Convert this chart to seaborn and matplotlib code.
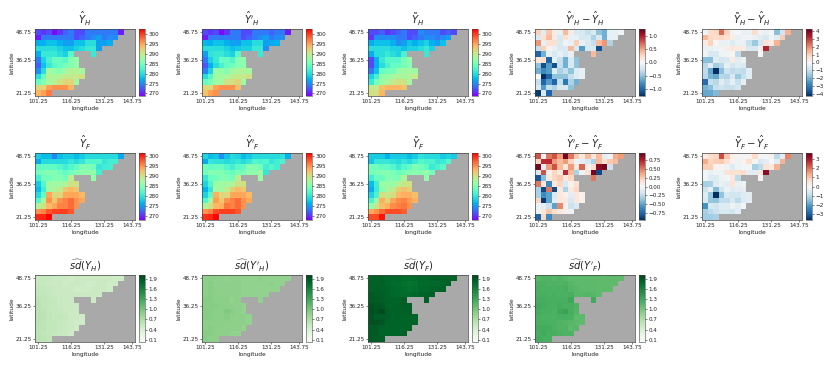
import numpy as np
import pandas as pd
import seaborn as sns
import matplotlib
matplotlib.use("Agg")
import matplotlib.pyplot as plt

n = float("nan")
LON = [101.25 + 2.5 * i for i in range(18)]
LAT = [48.75 - 2.5 * i for i in range(12)]
LON_TICKS = [101.25, 116.25, 131.25, 143.75]
LAT_TICKS = [48.75, 36.25, 21.25]

Y_H_hat = [
 [272,271,272,269,271,273,274,272,272,274,274,274,274,274,274,270],
 [270,274,274,274,274,274,274,272,273,274,275,276,274,275,275],
 [277,277,278,278,277,276,276,278,278,280,280,276,276,277],
 [280,280,280,280,279,278,278,279,280,281,281,276],
 [277,281,281,281,280,279,283,n,n,n,281],
 [274,279,282,284,284,283,286,287],
 [273,278,281,283,284,285,286,287],
 [275,280,288,287,286,288,289,289,288],
 [280,284,289,288,289,290,290,290,291],
 [284,286,288,289,291,292,292,288],
 [292,292,295,296,296,296,294],
 [294,295,297],
]
Y_H_prime = [
 [272,271,272,269,271,274,274,272,272,274,274,274,273,274,274,270],
 [270,274,274,274,274,274,274,272,273,274,275,276,274,275,275],
 [277.5,277,278,278,277,276,276,278,278,280,280,276,276.5,277],
 [280,280,280,280,279,278,278.5,279,279,281,281,275],
 [276,280.5,281,281,280,279,283,n,n,n,281],
 [274,279,281,284,284,282.5,286,286.5],
 [272.5,277,280,282,284,284.5,286,286.5],
 [274.5,279,287,287,286,288,288.5,289,288],
 [280,283,288,287.5,288.5,289.5,290,290,291],
 [284,285,287.5,288,291,291,292,287.5],
 [292,291.5,295,296,296,296,293.5],
 [293,295,296],
]
Y_H_tilde = [
 [272,272,273,271,272,273,274,272,272,275,274,274,274,272,273,272],
 [271,275,275,275,275,274,274,272,273,274,275,275,274,275,276],
 [277,278,278,278,277,275,276,278,277,278,279,277,276,278],
 [280,280,280,280,279,279,278,279,279,280,281,279],
 [277,280,280,281,280,279,282,n,n,n,281],
 [272,277,281,283,283,283,285,287],
 [272,277,280,282,284,284,285,286],
 [274,278,284,285,285,287,288,288,287.5],
 [279,282,287,287,288,289,288,289,290],
 [281,285,287,288.5,290,291,291,288],
 [290,290,293,294,294,294,293],
 [291,291,294],
]
Y_F_hat = [
 [278,277,277,274,277,278,278,277,278,279,279,279,279,279,279,276],
 [276,279,279,279,279,279,280,279,280,282,282,282,280,281,281],
 [283,283,283,283,282,281,282,283,285,285,284,280,281,281],
 [284,285,285,285,284,283,284,285,286,286,286,281],
 [281,284,284,285,285,284,289,n,n,n,286],
 [278,282,287,287,287,288,290,290],
 [277,281,287,288,289,292,293,292],
 [279,283,294,291,291,294,294,294,293],
 [282,288,295,292,295,296,297,295,294],
 [288,290,293,294,296,296,297,295],
 [295,296,298,299,299,299,298],
 [300,300,302],
]
Y_F_prime = [
 [278.5,277,277.5,274.5,277.5,279,278.5,277,278,279,279,279,279,279,279.5,276.5],
 [276,280,279.5,279.5,279,279.5,280,279,280,282,281.5,282,280,281,281.5],
 [284,283,283.5,283.5,282,281,282.5,283,285.5,285,284,281,282,281],
 [284,285.5,285,285,284,283.5,284.5,284.5,286,286,287,280],
 [280,283.5,284,285,285,284,289,n,n,n,286.5],
 [278.5,282,286.5,287,287,288,290,290],
 [276.5,280,287.5,287,289,291.5,293,292],
 [278.5,282.5,293.5,291,291,294,294,294,293],
 [282,287,294.5,292,295,296,297,295,294],
 [288,290,293,293.5,296.5,296,297,295],
 [295,296,298.5,299,299,299,298],
 [299.5,300,301.5],
]
Y_F_tilde = [
 [278,278,278,276.5,278,278,278,277,278,279.5,279,279,279,278,278.5,278],
 [277.5,280,280,280,279.5,279,280,279,280.5,282,281.5,281.5,280,280.5,282],
 [284,284,283,283,282,280.5,282,283,285,284,283,280.5,281.5,282.5],
 [284,284.5,285,285,284.5,283.5,284.5,285.5,285.5,285.5,286.5,284],
 [281,283.5,283.5,285,285,284.5,288,n,n,n,286],
 [277,281,286.5,286.5,286.5,288.5,289.5,290],
 [276,280.5,285.5,287.5,289,291.5,292.5,291.5],
 [278.5,281.5,290.5,289.5,290.5,293,293.5,293.5,292.5],
 [281.5,286.5,293.5,291,294,295.5,296,294.5,293.5],
 [286,289.5,292.5,293.5,295.5,296,296.5,295],
 [294,295,297,298.5,298.5,298.5,297.5],
 [298.5,298.5,301],
]
D_H_prime = [
 [.3,-.15,.35,.1,-.1,.4,.1,-.2,-.2,-.3,-.2,-.5,-.6,-.1,-.1,-.05],
 [-.2,.2,.4,.1,-.2,.2,-.1,-.1,-.2,-.2,-.4,-.2,-.6,-.1,-.1],
 [.55,-.1,.2,.2,-.2,-.05,-.1,.3,-.1,-.2,-.3,.4,.55,-.4],
 [-.3,.3,.05,-.1,-.2,-.2,.4,-.2,-.7,-.2,-.2,-1.1],
 [-1.0,-.6,-.1,-.2,-.1,-.2,-.1,n,n,n,.4],
 [.15,.2,-1.0,-.1,-.3,-.6,-.2,-.5],
 [-.5,-1.1,-.7,-1.1,-.3,-.6,-.2,-.5],
 [-.6,-.8,-.7,-.15,-.4,-.3,-.5,-.15,-.1],
 [0,-1.25,-1.0,-.5,-.5,-.5,-.3,-.15,-.1],
 [-.3,-1.0,-.7,-1.0,-.3,-.9,-.4,-.6],
 [-.2,-.7,-.3,-.4,-.2,-.2,-.5],
 [-1.2,-.2,-1.0],
]
D_H_tilde = [
 [-.2,.8,.9,2.4,1.0,-.2,-.1,-.3,-.3,.8,-.2,-.3,-.1,-1.8,-.8,1.5],
 [1.4,.9,.8,.9,.7,.3,-.3,-.2,-.2,-.3,-.5,-.7,-.2,-.5,1.1],
 [.4,1.0,.1,-.3,-.3,-.6,-.3,-.3,-1.0,-1.6,-.8,.6,.4,1.5],
 [-.3,-.3,-.2,-.2,.3,.5,.4,.4,-.7,-.7,.3,3.3],
 [-.2,-.7,-.7,-.2,-.2,.1,-1.1,n,n,n,-.1],
 [-1.8,-1.8,-.5,-.8,-.7,.4,-.5,-.3],
 [-1.2,-.5,-1.5,-1.2,-.4,-.8,-.6,-.7],
 [-1.1,-2.2,-4.3,-1.8,-.9,-1.1,-1.0,-1.1,-.5],
 [-1.2,-2.0,-2.2,-1.2,-1.3,-.7,-1.6,-1.0,-.5],
 [-3.3,-1.0,-1.2,-.5,-.9,-.4,-1.0,-.4],
 [-2.0,-1.8,-1.0,-.9,-1.0,-1.0,-.8],
 [-2.2,-2.2,-1.9],
]
D_F_prime = [
 [.6,-.05,.5,.6,.4,.9,.5,.25,.1,.3,.1,.3,-.1,-.05,.35,.4],
 [.2,.7,.7,.4,.3,.4,.2,-.05,-.1,-.15,-.3,.3,.15,.25,.3],
 [.9,-.1,.4,.6,.3,.1,.4,.1,.55,.05,.15,.85,.9,-.2],
 [-.15,.6,.05,.2,.1,.7,.3,-.3,-.05,.15,.9,-.85],
 [-.8,-.4,.1,.2,.25,.1,.2,n,n,n,.5],
 [.5,.1,-.6,.1,.2,-.15,.05,.15],
 [-.3,-.85,.5,-.85,.1,-.3,.1,.2],
 [-.3,-.6,-.5,-.15,.1,.05,-.1,.1,.05],
 [.2,-.9,-.5,-.1,.1,.1,-.15,.1,.05],
 [-.05,-.1,-.2,-.5,.45,.05,-.2,-.15],
 [-.05,.1,.25,.15,.1,.05,-.05],
 [-.75,.2,-.6],
]
D_F_tilde = [
 [.3,.7,.8,2.4,1.0,.2,.1,-.1,.1,.7,-.1,-.1,.2,-1.0,-.4,1.8],
 [1.4,.8,.9,1.0,.6,.2,-.2,.1,.6,-.1,-.6,-.4,-.05,-.5,1.3],
 [.9,.9,.1,.1,-.2,-.5,-.2,-.1,-.1,-1.2,-1.0,.5,.4,1.3],
 [-.1,-.3,-.2,-.2,.5,.6,.6,.7,-.4,-.4,.4,3.3],
 [-.1,-.5,-.5,-.2,-.1,.4,-1.0,n,n,n,.1],
 [-1.2,-1.2,-.5,-.3,-.4,.5,-.3,-.2],
 [-.8,-.3,-1.6,-.7,-.2,-.5,-.4,-.4],
 [-.5,-1.4,-3.7,-1.5,-.6,-.7,-.7,-.5,-.4],
 [-.6,-1.4,-1.5,-.9,-.9,-.6,-1.0,-.5,-.4],
 [-2.2,-.6,-.7,-.5,-.5,-.2,-.4,-.1],
 [-1.2,-1.0,-.8,-.6,-.6,-.7,-.4],
 [-1.3,-1.3,-1.2],
]
SD_H = [
 [.52,.54,.54,.50,.50,.50,.48,.50,.50,.50,.50,.50,.50,.50,.48,.48],
 [.54,.54,.52,.50,.50,.48,.50,.50,.50,.48,.48,.50,.50,.48,.48],
 [.56,.56,.54,.52,.50,.50,.50,.48,.48,.48,.50,.50,.50,.48],
 [.58,.58,.54,.52,.50,.50,.50,.50,.50,.50,.50,.50],
 [.60,.58,.56,.54,.52,.50,.50,n,n,n,.50],
 [.62,.58,.56,.54,.52,.50,.50,.50],
 [.62,.60,.56,.54,.54,.52,.50,.50],
 [.62,.60,.58,.54,.56,.54,.50,.50,.48],
 [.62,.60,.58,.56,.54,.52,.50,.48,.48],
 [.60,.60,.56,.56,.54,.52,.50,.48],
 [.60,.58,.56,.54,.52,.50,.48],
 [.62,.60,.58],
]
SD_H_prime = [
 [.88,.90,.88,.88,.86,.88,.88,.86,.86,.86,.88,.86,.86,.86,.86,.86],
 [.90,.92,.90,.88,.88,.88,.88,.86,.86,.86,.86,.86,.88,.86,.86],
 [.90,.92,.90,.88,.88,.88,.88,.86,.86,.86,.86,.86,.86,.86],
 [.90,.92,.90,.90,.88,.88,.88,.86,.86,.86,.86,.86],
 [.92,.92,.90,.90,.90,.86,.88,n,n,n,.86],
 [.92,.92,.92,.90,.90,.90,.88,.86],
 [.92,.92,.90,.90,.96,.92,.88,.86],
 [.92,.92,.90,.90,.92,.90,.88,.88,.86],
 [.90,.90,.90,.90,.90,.90,.88,.88,.86],
 [.90,.92,.90,.90,.88,.88,.88,.86],
 [.92,.92,.90,.88,.88,.86,.86],
 [.92,.90,.90],
]
SD_F = [
 [1.82,1.84,1.84,1.80,1.80,1.80,1.76,1.76,1.78,1.80,1.80,1.82,1.84,1.84,1.84,1.82],
 [1.84,1.84,1.84,1.80,1.78,1.78,1.74,1.72,1.74,1.78,1.78,1.80,1.80,1.82,1.84],
 [1.84,1.86,1.84,1.82,1.80,1.78,1.76,1.74,1.76,1.80,1.80,1.82,1.84,1.84],
 [1.88,1.86,1.86,1.82,1.80,1.78,1.78,1.78,1.80,1.82,1.84,1.86],
 [1.88,1.88,1.86,1.84,1.82,1.84,1.86,n,n,n,1.86],
 [1.92,1.90,1.90,1.84,1.82,1.84,1.86,1.86],
 [1.94,1.92,1.98,1.86,1.84,1.84,1.84,1.86],
 [1.92,1.88,1.88,1.86,1.84,1.84,1.82,1.82,1.82],
 [1.92,1.92,1.90,1.84,1.82,1.82,1.82,1.82,1.82],
 [1.88,1.88,1.84,1.82,1.82,1.82,1.82,1.84],
 [1.88,1.88,1.84,1.82,1.84,1.84,1.84],
 [1.88,1.88,1.86],
]
SD_F_prime = [
 [1.16,1.20,1.20,1.16,1.20,1.16,1.14,1.14,1.14,1.14,1.14,1.14,1.12,1.14,1.14,1.12],
 [1.22,1.22,1.20,1.20,1.20,1.22,1.16,1.14,1.14,1.14,1.14,1.12,1.12,1.12,1.12],
 [1.24,1.22,1.22,1.22,1.22,1.24,1.18,1.16,1.14,1.14,1.14,1.12,1.14,1.12],
 [1.24,1.24,1.22,1.24,1.22,1.22,1.24,1.16,1.16,1.18,1.16,1.14],
 [1.26,1.26,1.24,1.24,1.24,1.24,1.30,n,n,n,1.28],
 [1.28,1.26,1.24,1.24,1.26,1.24,1.24,1.20],
 [1.26,1.24,1.24,1.22,1.30,1.34,1.24,1.18],
 [1.24,1.22,1.22,1.22,1.24,1.24,1.22,1.14,1.14],
 [1.24,1.24,1.22,1.22,1.20,1.18,1.16,1.14,1.12],
 [1.26,1.26,1.26,1.22,1.20,1.20,1.14,1.16],
 [1.24,1.28,1.24,1.24,1.22,1.20,1.20],
 [1.26,1.24,1.24],
]

TITLES = [
 [r"$\hat{Y}_H$", r"$\hat{Y}'_H$", r"$\tilde{Y}_H$", r"$\hat{Y}'_H-\hat{Y}_H$", r"$\tilde{Y}_H-\hat{Y}_H$"],
 [r"$\hat{Y}_F$", r"$\hat{Y}'_F$", r"$\tilde{Y}_F$", r"$\hat{Y}'_F-\hat{Y}_F$", r"$\tilde{Y}_F-\hat{Y}_F$"],
 [r"$\widehat{sd}(Y_H)$", r"$\widehat{sd}(Y'_H)$", r"$\widehat{sd}(Y_F)$", r"$\widehat{sd}(Y'_F)$"],
]
TEMP_TICKS = [270, 275, 280, 285, 290, 295, 300]
SD_TICKS = [0.1, 0.4, 0.7, 1.0, 1.3, 1.6, 1.9]

sns.set_theme(style="white", rc={"font.family": "DejaVu Sans"})

W, H = 830, 374
fig = plt.figure(figsize=(W / 100, H / 100), dpi=100)
LEFTS = [35, 202, 368, 535, 702]
TOPS = [29, 153, 275]
AX_W, AX_H, CB_GAP, CB_W = 100, 67, 4, 6


def frame(rows):
    grid = [list(r) + [n] * (18 - len(r)) for r in rows]
    return pd.DataFrame(grid, index=LAT, columns=LON, dtype=float)


def panel(r, c, rows, cmap, vmin, vmax, ticks):
    x, y = LEFTS[c], TOPS[r]
    ax = fig.add_axes([x / W, 1 - (y + AX_H) / H, AX_W / W, AX_H / H])
    cax = fig.add_axes([(x + AX_W + CB_GAP) / W, 1 - (y + AX_H) / H, CB_W / W, AX_H / H])
    sns.heatmap(frame(rows), ax=ax, cbar_ax=cax, cmap=cmap, vmin=vmin, vmax=vmax,
                xticklabels=False, yticklabels=False, cbar_kws={"ticks": ticks})
    ax.set_facecolor("#a9a9a9")
    ax.set_xticks([LON.index(v) + 0.5 for v in LON_TICKS])
    ax.set_xticklabels([f"{v:.2f}" for v in LON_TICKS], rotation=0)
    ax.set_yticks([LAT.index(v) + 0.5 for v in LAT_TICKS])
    ax.set_yticklabels([f"{v:.2f}" for v in LAT_TICKS], rotation=0)
    ax.tick_params(labelsize=4.1, length=1.5, width=0.4, pad=1, colors="#222222",
                   bottom=True, left=True)
    ax.set_xlabel("longitude", fontsize=4.2, labelpad=1, color="#222222")
    ax.set_ylabel("latitude", fontsize=4.2, labelpad=1, color="#222222")
    ax.set_title(TITLES[r][c], fontsize=7.2, pad=3.5)
    for s in ax.spines.values():
        s.set_visible(True)
        s.set_linewidth(0.5)
        s.set_color("#444444")
    cax.tick_params(labelsize=4.1, length=1.5, width=0.4, pad=1, colors="#222222", right=True)
    cb = ax.collections[0].colorbar
    cb.outline.set_visible(True)
    cb.outline.set_linewidth(0.4)
    cb.outline.set_edgecolor("#444444")


panel(0, 0, Y_H_hat, "rainbow", 268.7, 302.5, TEMP_TICKS)
panel(0, 1, Y_H_prime, "rainbow", 268.7, 302.5, TEMP_TICKS)
panel(0, 2, Y_H_tilde, "rainbow", 268.7, 302.5, TEMP_TICKS)
panel(0, 3, D_H_prime, "RdBu_r", -1.25, 1.25, [-1.0, -0.5, 0.0, 0.5, 1.0])
panel(0, 4, D_H_tilde, "RdBu_r", -4.3, 4.3, [-4, -3, -2, -1, 0, 1, 2, 3, 4])
panel(1, 0, Y_F_hat, "rainbow", 268, 301.7, TEMP_TICKS)
panel(1, 1, Y_F_prime, "rainbow", 268, 301.7, TEMP_TICKS)
panel(1, 2, Y_F_tilde, "rainbow", 268, 301.7, TEMP_TICKS)
panel(1, 3, D_F_prime, "RdBu_r", -0.94, 0.94, [-0.75, -0.5, -0.25, 0.0, 0.25, 0.5, 0.75])
panel(1, 4, D_F_tilde, "RdBu_r", -3.7, 3.7, [-3, -2, -1, 0, 1, 2, 3])
panel(2, 0, SD_H, "Greens", 0.03, 2.02, SD_TICKS)
panel(2, 1, SD_H_prime, "Greens", 0.03, 2.02, SD_TICKS)
panel(2, 2, SD_F, "Greens", 0.03, 2.02, SD_TICKS)
panel(2, 3, SD_F_prime, "Greens", 0.03, 2.02, SD_TICKS)

fig.savefig("out.png", dpi=100, facecolor="white")
